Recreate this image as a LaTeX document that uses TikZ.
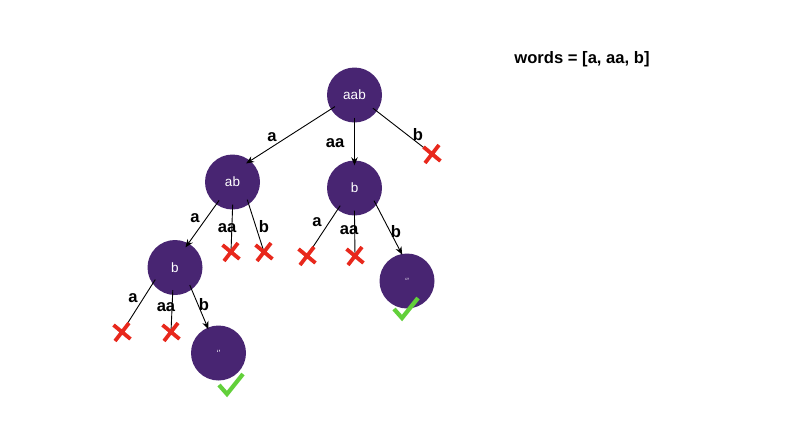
\documentclass[tikz,border=0pt]{standalone}
\usepackage{fontspec}
\setmainfont{Liberation Sans}
\usetikzlibrary{arrows.meta}
\definecolor{nodepurple}{RGB}{72,37,114}
\definecolor{xred}{RGB}{232,40,28}
\definecolor{okgreen}{RGB}{98,208,58}
\tikzset{
  tnode/.style={circle, fill=nodepurple, minimum size=55pt, inner sep=0pt, text=white, font=\fontsize{13.5}{14}\selectfont},
  elabel/.style={font=\fontsize{16.6}{17}\selectfont\bfseries, inner sep=0pt},
  arr/.style={draw=black, line width=0.9pt, -{Stealth[length=8pt,width=6.5pt]}, shorten <=-5pt, shorten >=-5pt},
  toX/.style={draw=black, line width=0.9pt, shorten <=-5pt},
  crossmark/.pic={\draw[xred, line width=3.8pt] (-7,9)--(7,-9) (-8.5,-7)--(8.5,7);},
  checkmark/.pic={\draw[okgreen, line width=4.2pt, line join=miter] (-12,0)--(-4,9)--(12,-11);}
}
\begin{document}
\begin{tikzpicture}[x=1pt,y=-1pt]
\useasboundingbox (0,0) rectangle (811,445);
% coordinates for crosses
\coordinate (x1) at (432,154);
\coordinate (x2) at (231,252);
\coordinate (x3) at (264,252);
\coordinate (x4) at (307,256);
\coordinate (x5) at (355,256);
\coordinate (x6) at (122,332);
\coordinate (x7) at (171,332);
% nodes
\node[tnode] (aab) at (354.5,95) {aab};
\node[tnode] (ab) at (232.5,182) {ab};
\node[tnode] (bm) at (354.5,188) {b};
\node[tnode] (bl) at (175,267.5) {b};
\node[tnode] (el) at (218.5,353) {\fontsize{9}{9}\selectfont ‘’};
\node[tnode] (er) at (407,281) {\fontsize{9}{9}\selectfont ‘’};
% edges
\draw[arr] (aab.211) -- (ab.50);
\draw[arr] (aab.270) -- (bm.90);
\draw[toX] (aab.-36) -- (x1);
\draw[arr] (ab.234) -- (bl.61);
\draw[toX] (ab.270) -- (x2);
\draw[toX] (ab.-54) -- (x3);
\draw[toX] (bm.232) -- (x4);
\draw[toX] (bm.270) -- (x5);
\draw[arr, shorten >=-1pt] (bm.-38) -- (er.101);
\draw[toX] (bl.216) -- (x6);
\draw[toX] (bl.265) -- (x7);
\draw[arr, shorten >=-2pt] (bl.-53) -- (el.113);
% crosses and checks
\foreach \c in {x1,x2,x3,x4,x5,x6,x7} {\pic at (\c) {crossmark};}
\coordinate (c1) at (231,385);
\coordinate (c2) at (406,309);
\pic at (c1) {checkmark};
\pic at (c2) {checkmark};
% labels
\node[elabel] (l1) at (272,137) {a};
\node[elabel] (l2) at (335,143) {aa};
\node[elabel] (l3) at (418,135) {b};
\node[elabel] (l4) at (195,218) {a};
\node[elabel] (l5) at (227,228) {aa};
\node[elabel] (l6) at (264,227) {b};
\node[elabel] (l7) at (317,222) {a};
\node[elabel] (l8) at (349,230) {aa};
\node[elabel] (l9) at (396,232) {b};
\node[elabel] (l10) at (133,298) {a};
\node[elabel] (l11) at (166,307) {aa};
\node[elabel] (l12) at (204,305) {b};
\node[elabel] (words) at (582,59) {words = [a, aa, b]};
\end{tikzpicture}
\end{document}
